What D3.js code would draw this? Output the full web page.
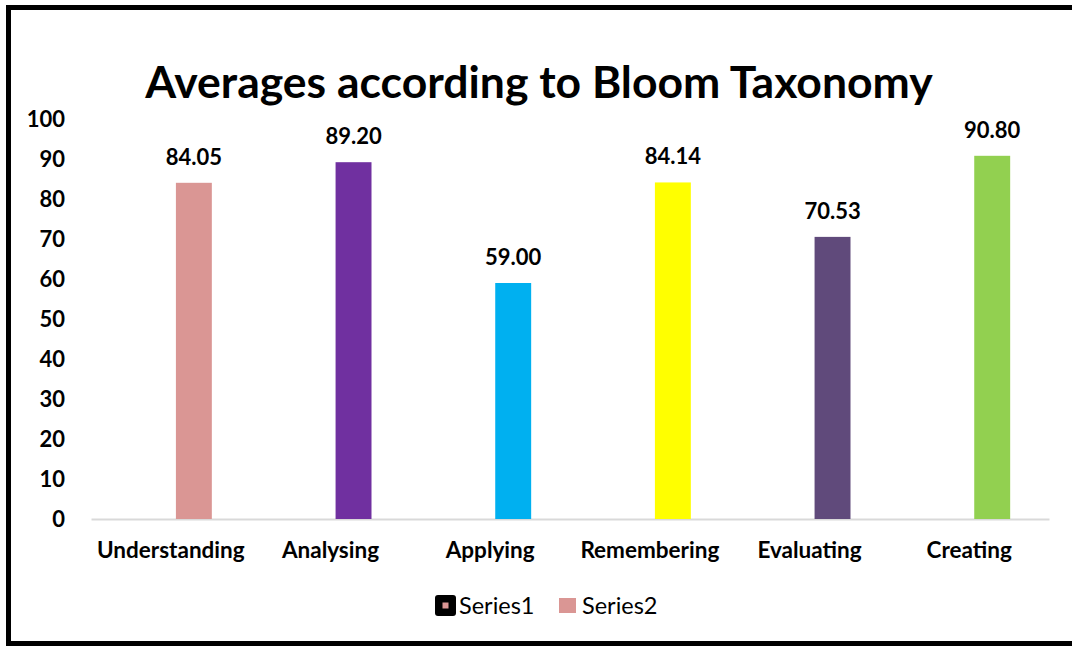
<!DOCTYPE html>
<html>
<head>
<meta charset="utf-8">
<script src="https://cdn.jsdelivr.net/npm/d3@7"></script>
<style>
  body { margin: 0; background: #fff; }
  svg { display: block; font-family: Lato, "Open Sans", sans-serif; }
</style>
</head>
<body>
<svg id="chart"></svg>
<script>
// chart data
var categories = ["Understanding", "Analysing", "Applying", "Remembering", "Evaluating", "Creating"];
var seriesNames = ["Series1", "Series2"];
var series1 = [null, null, null, null, null, null];
var series2 = [84.05, 89.20, 59.00, 84.14, 70.53, 90.80];
var barColors = ["#da9694", "#7030a0", "#00b0f0", "#ffff00", "#604a7b", "#92d050"];
var yTicks = [0, 10, 20, 30, 40, 50, 60, 70, 80, 90, 100];

var width = 1072;
var height = 646;
var margin = { top: 119, right: 23, bottom: 127, left: 91 };

var svg = d3.select("#chart").attr("width", width).attr("height", height);

// frame (right edge is cut off in the original)
svg.append("path")
  .attr("d", "M" + (width + 10) + ",7.5 H8.5 V643.5 H" + (width + 10))
  .attr("fill", "none")
  .attr("stroke", "#000")
  .attr("stroke-width", 5);

var xScale = d3.scaleBand()
  .domain(categories)
  .range([margin.left, width - margin.right]);

var bw = xScale.bandwidth();
var xInner = d3.scaleBand()
  .domain(seriesNames)
  .range([bw / 2 - 41, bw / 2 + 41])
  .paddingInner(0.22);

var yScale = d3.scaleLinear()
  .domain([0, 100])
  .range([height - margin.bottom, margin.top]);

// title
svg.append("text")
  .attr("x", 539)
  .attr("y", 98)
  .attr("text-anchor", "middle")
  .attr("font-size", 44.5)
  .attr("font-weight", "bold")
  .attr("fill", "#000")
  .text("Averages according to Bloom Taxonomy");

// y axis labels
var yAxis = d3.axisLeft(yScale).tickValues(yTicks).tickSize(0).tickPadding(0);
var yG = svg.append("g")
  .attr("transform", "translate(65,0)")
  .call(yAxis);
yG.select(".domain").remove();
yG.selectAll("text")
  .attr("font-family", "Lato, sans-serif")
  .attr("font-size", 22)
  .attr("font-weight", "bold")
  .attr("fill", "#000");

// x axis
var xAxis = d3.axisBottom(xScale).tickSize(0).tickPadding(23);
var xG = svg.append("g")
  .attr("transform", "translate(0," + yScale(0) + ")")
  .call(xAxis);
xG.select(".domain").attr("stroke", "#d9d9d9").attr("stroke-width", 2);
xG.selectAll("text")
  .attr("font-family", "Lato, sans-serif")
  .attr("font-size", 22.5)
  .attr("font-weight", "bold")
  .attr("fill", "#000");

// bars (series2)
var rows = categories.map(function (c, i) {
  return { cat: c, v1: series1[i], v2: series2[i], color: barColors[i] };
});

svg.selectAll(".bar")
  .data(rows)
  .enter()
  .append("rect")
  .attr("class", "bar")
  .attr("x", function (d) { return xScale(d.cat) + xInner("Series2"); })
  .attr("width", xInner.bandwidth())
  .attr("y", function (d) { return yScale(d.v2); })
  .attr("height", function (d) { return yScale(0) - yScale(d.v2); })
  .attr("fill", function (d) { return d.color; });

svg.selectAll(".label")
  .data(rows)
  .enter()
  .append("text")
  .attr("class", "label")
  .attr("x", function (d) { return xScale(d.cat) + xInner("Series2") + xInner.bandwidth() / 2; })
  .attr("y", function (d) { return yScale(d.v2) - 18; })
  .attr("text-anchor", "middle")
  .attr("font-size", 22)
  .attr("font-weight", "bold")
  .attr("fill", "#000")
  .text(function (d) { return d.v2.toFixed(2); });

// legend
var legend = svg.append("g").attr("transform", "translate(435,595)");
legend.append("rect")
  .attr("x", 0).attr("y", 0).attr("width", 21).attr("height", 21)
  .attr("rx", 3).attr("fill", "#000");
legend.append("rect")
  .attr("x", 7.5).attr("y", 7.5).attr("width", 6).attr("height", 6)
  .attr("fill", "#da9694");
legend.append("text")
  .attr("x", 24).attr("y", 19)
  .attr("font-size", 23.5)
  .attr("fill", "#000")
  .text("Series1");
legend.append("rect")
  .attr("x", 124).attr("y", 3).attr("width", 17).attr("height", 15)
  .attr("fill", "#da9694");
legend.append("text")
  .attr("x", 147).attr("y", 19)
  .attr("font-size", 23.5)
  .attr("fill", "#000")
  .text("Series2");
</script>
</body>
</html>
